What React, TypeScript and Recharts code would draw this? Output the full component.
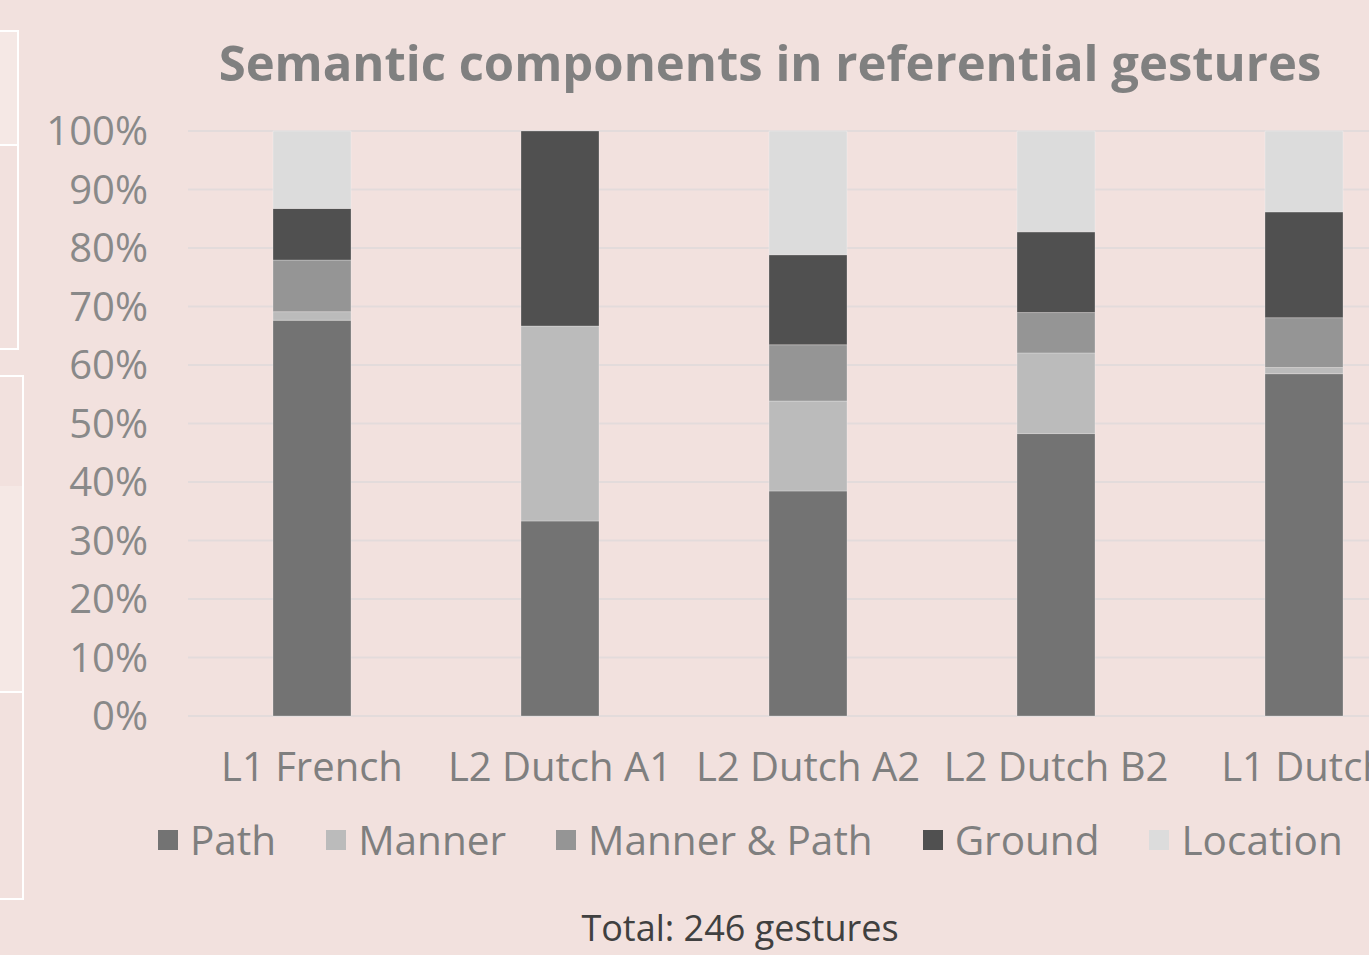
import { BarChart, Bar, XAxis, YAxis, CartesianGrid } from "recharts";

const categories = ["L1 French", "L2 Dutch A1", "L2 Dutch A2", "L2 Dutch B2", "L1 Dutch"];
// gesture counts per group (stacked to 100%)
const pathCounts = [46, 1, 20, 14, 55];
const mannerCounts = [1, 1, 8, 4, 1];
const mannerPathCounts = [6, 0, 5, 2, 8];
const groundCounts = [6, 1, 8, 4, 17];
const locationCounts = [9, 0, 11, 5, 13];
const yTicks = [0, 0.1, 0.2, 0.3, 0.4, 0.5, 0.6, 0.7, 0.8, 0.9, 1];

const series = [
  { key: "path", name: "Path", color: "#737373" },
  { key: "manner", name: "Manner", color: "#BBBBBB" },
  { key: "mannerPath", name: "Manner & Path", color: "#959595" },
  { key: "ground", name: "Ground", color: "#505050" },
  { key: "location", name: "Location", color: "#DCDCDC" },
];

const data = categories.map((c, i) => ({
  group: c,
  path: pathCounts[i],
  manner: mannerCounts[i],
  mannerPath: mannerPathCounts[i],
  ground: groundCounts[i],
  location: locationCounts[i],
}));

const FONT = "'Open Sans', 'Noto Sans', sans-serif";
const BG = "#F2E1DE";

export default function App() {
  return (
    <div style={{ position: "fixed", left: 0, top: 0, width: 1369, height: 955, overflow: "hidden", background: BG, fontFamily: FONT }}>
      {/* slide leftovers on the left edge */}
      <div style={{ position: "absolute", left: -4, top: 30, width: 19, height: 112, background: "#F5E8E5", border: "2px solid #fff" }} />
      <div style={{ position: "absolute", left: -4, top: 142, width: 19, height: 206, border: "2px solid #fff", borderTop: "none" }} />
      <div style={{ position: "absolute", left: -4, top: 375, width: 24, height: 111, border: "2px solid #fff" }} />
      <div style={{ position: "absolute", left: -4, top: 486, width: 24, height: 205, background: "#F5E8E5", border: "2px solid #fff", borderTop: "none" }} />
      <div style={{ position: "absolute", left: -4, top: 691, width: 24, height: 207, border: "2px solid #fff", borderTop: "none" }} />

      <div style={{ position: "absolute", left: 0, top: 34, width: 1540, textAlign: "center", fontSize: 49, fontWeight: 700, color: "#808080", lineHeight: "56px" }}>
        Semantic components in referential gestures
      </div>

      <div style={{ position: "absolute", left: 0, top: 0 }}>
        <BarChart
          width={1440}
          height={955}
          data={data}
          stackOffset="expand"
          barSize={78}
          margin={{ top: 131, right: 12, left: 0, bottom: 0 }}
          accessibilityLayer={false}
        >
          <CartesianGrid vertical={false} stroke="#E3DBDB" strokeWidth={2} />
          <XAxis
            dataKey="group"
            height={239}
            interval={0}
            axisLine={false}
            tickLine={false}
            tickMargin={31}
            tick={{ fontSize: 40, fill: "#7F7F7F", fontFamily: FONT }}
          />
          <YAxis
            width={188}
            domain={[0, 1]}
            ticks={yTicks}
            axisLine={false}
            tickLine={false}
            tickMargin={34}
            tickFormatter={(v: number) => `${Math.round(v * 100)}%`}
            tick={{ fontSize: 40, fill: "#898989", fontFamily: FONT }}
          />
          {series.map((s) => (
            <Bar key={s.key} dataKey={s.key} name={s.name} stackId="a" fill={s.color} stroke="#ffffff" strokeOpacity={0.25} strokeWidth={1} isAnimationActive={false} />
          ))}
        </BarChart>
      </div>

      <div style={{ position: "absolute", left: 158, top: 814, display: "flex", alignItems: "center", gap: 50, fontSize: 40.5, color: "#7F7F7F", lineHeight: "52px" }}>
        {series.map((s) => (
          <div key={s.key} style={{ display: "flex", alignItems: "center", gap: 12 }}>
            <div style={{ width: 20, height: 20, background: s.color }} />
            <span>{s.name}</span>
          </div>
        ))}
      </div>

      <div style={{ position: "absolute", left: 0, top: 905, width: 1480, textAlign: "center", fontSize: 36, color: "#404040", lineHeight: "46px" }}>
        Total: 246 gestures
      </div>
    </div>
  );
}
